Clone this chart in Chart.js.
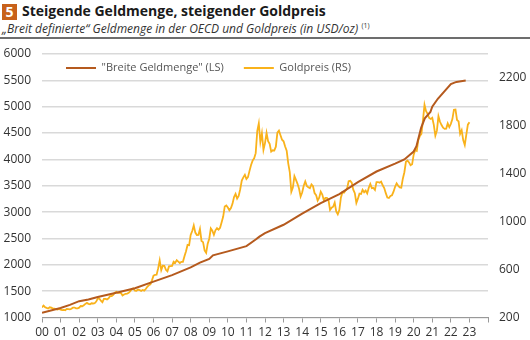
<!DOCTYPE html>
<html>
<head>
<meta charset="utf-8">
<script src="https://cdn.jsdelivr.net/npm/chart.js@4.4.0/dist/chart.umd.min.js"></script>
<style>
  body { margin: 0; background: #fff; font-family: "Open Sans", sans-serif; }
  #wrap { position: relative; width: 530px; height: 340px; overflow: hidden; }
  #num { position: absolute; left: 2px; top: 4px; width: 15px; height: 16px; background: #c8611a; color: #fff;
         font-weight: bold; font-size: 14px; line-height: 16px; text-align: center; }
  #title { position: absolute; left: 22px; top: 1px; font-weight: bold; font-size: 14px; color: #1a1a1a; white-space: nowrap; }
  #sub { position: absolute; left: 2px; top: 20px; font-style: italic; font-size: 12px; color: #333; white-space: nowrap; }
  #sub sup { font-size: 7px; font-style: normal; vertical-align: 5px; }
  #rule { position: absolute; left: 0; top: 37px; width: 530px; height: 2px; background: #6d6d6d; }
  #chart { position: absolute; left: 0; top: 0; }
</style>
</head>
<body>
<div id="wrap">
  <div id="num">5</div>
  <div id="title">Steigende Geldmenge, steigender Goldpreis</div>
  <div id="sub">„Breit definierte“ Geldmenge in der OECD und Goldpreis (in USD/oz) <sup>(1)</sup></div>
  <div id="rule"></div>
  <canvas id="chart" width="530" height="340"></canvas>
</div>
<script>
// "Breite Geldmenge" (left scale), year + value
const moneyYears = [2000, 2001, 2001.5, 2002, 2002.5, 2003, 2004, 2005, 2006, 2007, 2008, 2008.5, 2009, 2009.2,
  2010, 2011, 2011.5, 2011.7, 2012, 2013, 2014, 2015, 2016, 2017, 2018, 2019, 2019.5, 2020, 2020.15,
  2020.4, 2020.6, 2020.9, 2021, 2021.3, 2022, 2022.3, 2022.8];
const moneyValues = [1090, 1180, 1240, 1310, 1340, 1390, 1470, 1555, 1680, 1805, 1950, 2040, 2110, 2180,
  2255, 2355, 2480, 2535, 2600, 2760, 2970, 3170, 3340, 3570, 3770, 3920, 4000, 4150, 4250,
  4600, 4780, 4900, 5000, 5150, 5430, 5470, 5495];

// Goldpreis (right scale), monthly from Jan 2000
const goldStart = 2000;
const goldValues = [
  284, 300, 286, 280, 275, 285, 282, 274, 273, 270, 266, 272,
  266, 262, 263, 261, 272, 270, 268, 273, 283, 283, 276, 276,
  282, 296, 294, 302, 314, 322, 314, 310, 319, 317, 319, 333,
  357, 359, 340, 328, 355, 356, 351, 360, 379, 379, 389, 407,
  414, 405, 406, 404, 384, 392, 398, 400, 406, 420, 439, 442,
  424, 423, 434, 429, 422, 430, 424, 438, 456, 470, 476, 510,
  549, 555, 557, 610, 676, 596, 633, 632, 598, 586, 627, 629,
  631, 665, 655, 679, 667, 655, 665, 665, 712, 754, 806, 803,
  889, 922, 968, 909, 888, 889, 939, 839, 829, 760, 740, 816,
  858, 943, 924, 890, 928, 946, 934, 949, 996, 1043, 1127, 1135,
  1118, 1095, 1113, 1149, 1205, 1232, 1193, 1215, 1271, 1343, 1370, 1391,
  1356, 1372, 1424, 1473, 1510, 1529, 1572, 1756, 1820, 1665, 1739, 1600,
  1656, 1742, 1673, 1650, 1585, 1596, 1594, 1626, 1744, 1760, 1722, 1684,
  1671, 1628, 1593, 1487, 1414, 1250, 1286, 1380, 1349, 1316, 1275, 1210,
  1244, 1300, 1336, 1299, 1287, 1279, 1311, 1296, 1239, 1222, 1176, 1200,
  1251, 1227, 1178, 1198, 1199, 1181, 1098, 1117, 1125, 1159, 1086, 1062,
  1097, 1200, 1246, 1242, 1260, 1276, 1337, 1341, 1326, 1267, 1238, 1157,
  1192, 1234, 1231, 1266, 1246, 1260, 1236, 1283, 1315, 1280, 1282, 1265,
  1331, 1331, 1325, 1335, 1304, 1281, 1238, 1202, 1198, 1215, 1221, 1250,
  1291, 1320, 1300, 1286, 1284, 1359, 1413, 1500, 1510, 1495, 1471, 1479,
  1560, 1597, 1591, 1683, 1715, 1732, 1846, 1975, 1922, 1900, 1866, 1858,
  1867, 1808, 1718, 1760, 1880, 1834, 1807, 1785, 1775, 1777, 1820, 1790,
  1817, 1856, 1935, 1937, 1849, 1837, 1733, 1764, 1681, 1640, 1726, 1810,
  1830
];

const yearTicks = [2000, 2001, 2002, 2003, 2004, 2005, 2006, 2007, 2008, 2009, 2010, 2011,
  2012, 2013, 2014, 2015, 2016, 2017, 2018, 2019, 2020, 2021, 2022, 2023, 2024];
const leftTicks = [1000, 1500, 2000, 2500, 3000, 3500, 4000, 4500, 5000, 5500, 6000];
const rightTicks = [200, 600, 1000, 1400, 1800, 2200];

const labelMoney = '"Breite Geldmenge" (LS)';
const labelGold = 'Goldpreis (RS)';

Chart.defaults.font.family = "'Open Sans', sans-serif";
Chart.defaults.font.size = 12;
Chart.defaults.color = '#333';

// legend takes no room in the layout and is drawn inside the plot
const legendSpot = {
  id: 'legendSpot',
  beforeLayout(chart) {
    const lg = chart.legend;
    if (lg && !lg._noHeight) {
      const fit = lg.fit;
      lg.fit = function () { fit.call(this); this.height = 0; };
      lg._noHeight = true;
    }
  },
  afterLayout(chart) {
    const lg = chart.legend;
    lg.left = 46;
    lg.right = 500;
    lg.top = 42.5;
    lg.bottom = 90;
    lg.width = lg.right - lg.left;
    lg.height = lg.bottom - lg.top;
  }
};

new Chart('chart', {
  type: 'line',
  data: {
    datasets: [{
      label: labelMoney,
      data: moneyYears.map((x, i) => ({x: x, y: moneyValues[i]})),
      borderColor: '#b55a1e',
      backgroundColor: '#b55a1e',
      borderWidth: 2,
      pointRadius: 0,
      yAxisID: 'y'
    }, {
      label: labelGold,
      data: goldValues.map((v, i) => ({x: goldStart + i / 12, y: v})),
      borderColor: '#f9b21b',
      backgroundColor: '#f9b21b',
      borderWidth: 1.8,
      pointRadius: 0,
      yAxisID: 'y2'
    }]
  },
  options: {
    responsive: false,
    animation: false,
    layout: { padding: { top: 54, left: 0, right: 0, bottom: 0 } },
    plugins: {
      tooltip: { enabled: false },
      legend: {
        position: 'top',
        align: 'start',
        labels: {
          usePointStyle: true,
          pointStyle: 'line',
          pointStyleWidth: 30,
          boxWidth: 30,
          padding: 20,
          color: '#555',
          font: { size: 11 }
        }
      }
    },
    scales: {
      x: {
        type: 'linear',
        min: 2000,
        max: 2024,
        afterBuildTicks: (s) => { s.ticks = yearTicks.map(v => ({value: v})); },
        afterFit: (s) => { s.height = 22.5; },
        grid: { drawOnChartArea: false, drawTicks: true, tickLength: 5, color: '#999' },
        border: { display: true, color: '#999' },
        ticks: {
          autoSkip: false,
          maxRotation: 0,
          padding: 3,
          callback: (v) => v === 2024 ? '' : String(v).slice(2)
        }
      },
      y: {
        position: 'left',
        min: 1000,
        max: 6000,
        afterBuildTicks: (s) => { s.ticks = leftTicks.map(v => ({value: v})); },
        afterFit: (s) => { s.width = 42; },
        grid: { color: '#d9d9d9', lineWidth: 1.5, drawTicks: false },
        border: { display: false },
        ticks: { padding: 11, callback: (v) => String(v) }
      },
      y2: {
        position: 'right',
        min: 200,
        max: 2400,
        afterBuildTicks: (s) => { s.ticks = rightTicks.map(v => ({value: v})); },
        afterFit: (s) => { s.width = 42; },
        grid: { display: false, drawTicks: false },
        border: { display: false },
        ticks: { padding: 11, callback: (v) => String(v) }
      }
    }
  },
  plugins: [legendSpot]
});
</script>
</body>
</html>
